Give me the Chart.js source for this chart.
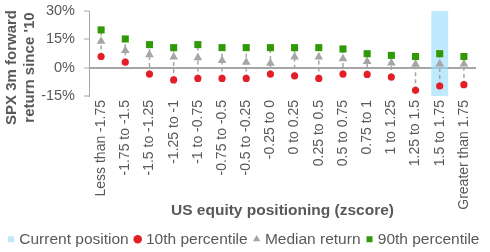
<!DOCTYPE html>
<html>
<head>
<meta charset="utf-8">
<script src="https://cdn.jsdelivr.net/npm/chart.js@4/dist/chart.umd.min.js"></script>
<style>
  body { margin: 0; background: #fff; }
  #wrap { width: 490px; height: 252px; }
</style>
</head>
<body>
<div id="wrap"><canvas id="positioningChart"></canvas></div>
<script>
const categories = [
    'Less than -1.75', '-1.75 to -1.5', '-1.5 to -1.25', '-1.25 to -1',
    '-1 to -0.75', '-0.75 to -0.5', '-0.5 to -0.25', '-0.25 to 0',
    '0 to 0.25', '0.25 to 0.5', '0.5 to 0.75', '0.75 to 1',
    '1 to 1.25', '1.25 to 1.5', '1.5 to 1.75', 'Greater than 1.75'
];
const pct10 = [5.9, 2.9, -3.4, -6.5, -5.7, -5.7, -5.7, -3.4, -4.3, -5.7, -3.4, -3.6, -5.0, -12.0, -9.7, -9.0];
const median = [14.0, 9.1, 6.8, 5.6, 5.2, 3.8, 2.9, 2.3, 5.6, 5.6, 4.7, 3.2, 2.5, 1.8, 2.0, 2.0];
const pct90 = [20.0, 15.2, 12.2, 10.6, 12.2, 10.6, 10.6, 10.6, 10.6, 10.6, 9.9, 7.4, 6.5, 5.9, 7.4, 5.9];
const currentCategory = '1.5 to 1.75';
const yTicks = [-15, 0, 15, 30];
const yTitle = ['SPX 3m forward', "return since '10"];
const xTitle = 'US equity positioning (zscore)';

const FONT = '"Liberation Sans", Arial, sans-serif';
const TEXT = '#595959';
const GRAY = '#a6a6a6';

const yMin = yTicks[0];
const yMax = yTicks[yTicks.length - 1];
const currentBar = categories.map(c => c === currentCategory ? [yMin, yMax] : null);

// dashed range line from 10th to 90th percentile, drawn right after the highlight bar
const rangeLines = {
    id: 'rangeLines',
    afterDatasetDraw(chart, args) {
        if (args.index !== 0) return;
        const x = chart.scales.x, y = chart.scales.y, ctx = chart.ctx;
        ctx.save();
        ctx.strokeStyle = GRAY;
        ctx.lineWidth = 1.5;
        ctx.setLineDash([4, 3]);
        categories.forEach((c, i) => {
            const px = x.getPixelForValue(i);
            ctx.beginPath();
            ctx.moveTo(px, y.getPixelForValue(pct10[i]));
            ctx.lineTo(px, y.getPixelForValue(pct90[i]));
            ctx.stroke();
        });
        ctx.restore();
    }
};

// two-line y axis title, sitting a bit lower than the plot centre like the original
const yAxisTitle = {
    id: 'yAxisTitle',
    afterDraw(chart) {
        const ctx = chart.ctx, area = chart.chartArea;
        ctx.save();
        ctx.fillStyle = TEXT;
        ctx.font = 'bold 15px ' + FONT;
        ctx.textAlign = 'center';
        ctx.textBaseline = 'middle';
        const cy = (area.top + area.bottom) / 2 + 14;
        yTitle.forEach((line, i) => {
            ctx.save();
            ctx.translate(12 + i * 18, cy);
            ctx.rotate(-Math.PI / 2);
            ctx.fillText(line, 0, 0);
            ctx.restore();
        });
        ctx.restore();
    }
};

new Chart(document.getElementById('positioningChart'), {
    data: {
        labels: categories,
        datasets: [
            {
                type: 'bar',
                label: 'Current position',
                data: currentBar,
                backgroundColor: 'rgba(148, 218, 250, 0.6)',
                borderWidth: 0,
                barPercentage: 0.7,
                categoryPercentage: 1,
                pointStyle: 'rect',
                order: 10
            },
            {
                type: 'line',
                label: '10th percentile',
                data: pct10,
                showLine: false,
                pointStyle: 'circle',
                pointRadius: 3.6,
                backgroundColor: '#e41e26',
                borderColor: '#e41e26',
                borderWidth: 0,
                order: 3
            },
            {
                type: 'line',
                label: 'Median return',
                data: median,
                showLine: false,
                pointStyle: 'triangle',
                pointRadius: 5,
                backgroundColor: GRAY,
                borderColor: GRAY,
                borderWidth: 0,
                order: 2
            },
            {
                type: 'line',
                label: '90th percentile',
                data: pct90,
                showLine: false,
                pointStyle: 'rect',
                pointRadius: 5,
                backgroundColor: '#2f9a05',
                borderColor: '#2f9a05',
                borderWidth: 0,
                order: 1
            }
        ]
    },
    options: {
        responsive: true,
        maintainAspectRatio: false,
        animation: false,
        layout: {
            padding: { top: 11, right: 0, left: 0, bottom: -5 }
        },
        scales: {
            x: {
                grid: { display: false, drawTicks: false },
                border: { display: false },
                ticks: {
                    color: TEXT,
                    font: { family: FONT, size: 14 },
                    minRotation: 90,
                    maxRotation: 90,
                    autoSkip: false,
                    padding: 4
                },
                title: {
                    display: true,
                    text: xTitle,
                    color: TEXT,
                    font: { family: FONT, size: 15.5, weight: 'bold' },
                    padding: { top: 0, bottom: 3 }
                },
                afterFit(scale) {
                    scale.height = 127;
                    scale.paddingLeft = 0;
                    scale.paddingRight = 0;
                }
            },
            y: {
                min: yMin,
                max: yMax,
                afterBuildTicks(scale) { scale.ticks = yTicks.map(v => ({ value: v })); },
                afterFit(scale) {
                    scale.width = 89;
                    scale.paddingTop = 0;
                    scale.paddingBottom = 0;
                },
                grid: {
                    color: ctx => ctx.tick && ctx.tick.value === 0 ? GRAY : 'rgba(0,0,0,0)',
                    lineWidth: 2,
                    tickColor: GRAY,
                    tickLength: 5,
                    tickWidth: 1
                },
                border: { display: true, color: GRAY, width: 1 },
                ticks: {
                    color: TEXT,
                    font: { family: FONT, size: 14.5 },
                    padding: 9,
                    autoSkip: false,
                    callback: v => v + '%'
                }
            },
            // empty right-hand axis, only keeps the plot off the right edge
            pad: {
                type: 'linear',
                position: 'right',
                grid: { display: false },
                border: { display: false },
                ticks: { display: false },
                afterFit(scale) { scale.width = 14; }
            }
        },
        plugins: {
            legend: {
                position: 'bottom',
                labels: {
                    usePointStyle: true,
                    boxWidth: 1,
                    boxHeight: 6,
                    padding: 8.5,
                    color: TEXT,
                    font: { family: FONT, size: 15.5 },
                    sort: (a, b) => a.datasetIndex - b.datasetIndex
                }
            },
            tooltip: { enabled: false }
        }
    },
    plugins: [rangeLines, yAxisTitle]
});
</script>
</body>
</html>
